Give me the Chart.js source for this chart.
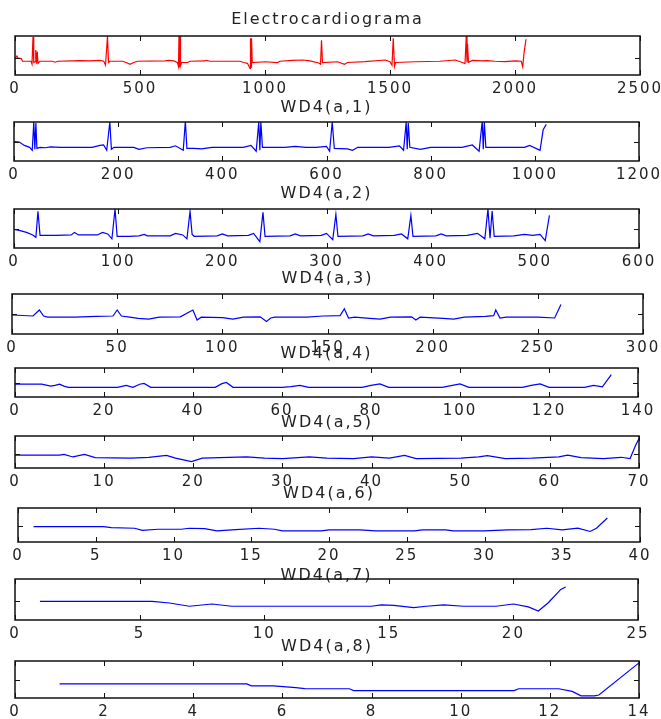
<!DOCTYPE html>
<html><head><meta charset="utf-8">
<script src="https://cdn.jsdelivr.net/npm/chart.js@4/dist/chart.umd.min.js"></script>
<style>
html,body{margin:0;padding:0;background:#fff;width:661px;height:719px;overflow:hidden;position:relative}
canvas{position:absolute;left:0}
</style></head><body>
<script>
// ---- titles and axis settings ----
const titles = ['Electrocardiograma','WD4(a,1)','WD4(a,2)','WD4(a,3)','WD4(a,4)','WD4(a,5)','WD4(a,6)','WD4(a,7)','WD4(a,8)'];
const xMax = [2500,1200,600,300,140,70,40,25,14];
const xTicks = [
  [0,500,1000,1500,2000,2500],
  [0,200,400,600,800,1000,1200],
  [0,100,200,300,400,500,600],
  [0,50,100,150,200,250,300],
  [0,20,40,60,80,100,120,140],
  [0,10,20,30,40,50,60,70],
  [0,5,10,15,20,25,30,35,40],
  [0,5,10,15,20,25],
  [0,2,4,6,8,10,12,14]
];
const yMin = [-1.1,-1,-1,-1,-1,-0.89,-0.96,-0.94,-0.96];
const yMax = [1.4,1,1,1,1,1.11,1.04,1.06,1.04];
const yTick = [0,0,0,0,0,0,0,0,0];

// ---- series (x, value) ----
const ecg = [[0,0],[5,0.05],[8,0.12],[12,-0.02],[25,-0.05],[30,-0.22],[64,-0.22],[68,-0.4],[72,1.34],[75,-0.3],
[80,-0.25],[83,0.5],[86,-0.38],[89,0.4],[92,-0.35],[100,-0.22],[150,-0.22],[160,-0.28],[170,-0.22],[230,-0.2],
[260,-0.18],[300,-0.2],[340,-0.16],[355,-0.22],[362,-0.47],[370,1.4],[374,-0.3],[380,-0.22],[430,-0.22],[445,-0.3],
[460,-0.41],[475,-0.3],[490,-0.22],[600,-0.2],[615,-0.16],[635,-0.2],[650,-0.3],[654,-0.55],[656,1.4],[658,-0.6],
[660,1.4],[662,-0.5],[666,-0.3],[690,-0.3],[700,-0.22],[760,-0.2],[765,-0.16],[780,-0.22],[900,-0.22],[915,-0.3],
[930,-0.35],[940,-0.68],[942,1.25],[944,-0.6],[946,1.25],[949,-0.3],[1000,-0.25],[1050,-0.3],[1060,-0.22],[1110,-0.16],
[1150,-0.14],[1180,-0.2],[1215,-0.33],[1222,-0.41],[1226,1.13],[1230,-0.3],[1290,-0.25],[1318,-0.41],[1330,-0.3],[1400,-0.24],
[1480,-0.14],[1500,-0.25],[1508,-0.47],[1513,1.25],[1518,-0.54],[1522,-0.3],[1600,-0.25],[1700,-0.22],[1760,-0.14],[1790,-0.3],
[1800,-0.37],[1805,1.4],[1808,-0.3],[1810,0.9],[1814,-0.28],[1830,-0.16],[1870,-0.2],[1890,-0.18],[1920,-0.22],[1960,-0.24],
[2000,-0.2],[2025,-0.22],[2031,-0.58],[2036,0.3],[2044,1.19]];

const a1 = [[0,0],[10,-0.03],[20,-0.2],[30,-0.3],[35,-0.45],[38,1.0],[40,-0.4],[42,0.95],[44,-0.35],[50,-0.3],[60,-0.32],[70,-0.28],[90,-0.3],[150,-0.3],[165,-0.2],[172,-0.18],[178,-0.45],[184,1.0],[187,-0.4],[192,-0.3],[230,-0.3],[240,-0.4],[255,-0.32],[300,-0.3],[310,-0.22],[325,-0.45],[329,1.05],[332,-0.35],[345,-0.35],[360,-0.38],[380,-0.3],[440,-0.3],[455,-0.2],[465,-0.5],[470,1.0],[472,-0.45],[474,1.0],[477,-0.3],[520,-0.3],[540,-0.25],[560,-0.3],[580,-0.3],[600,-0.25],[606,-0.5],[611,1.0],[615,-0.35],[640,-0.38],[650,-0.45],[660,-0.3],[720,-0.3],[740,-0.22],[748,-0.45],[753,1.0],[755,-0.4],[757,0.95],[760,-0.3],[780,-0.4],[800,-0.3],[860,-0.3],[880,-0.18],[893,-0.5],[899,1.05],[901,-0.4],[903,1.0],[906,-0.3],[950,-0.3],[980,-0.3],[990,-0.2],[1010,-0.45],[1016,0.6],[1022,0.88]];

const a2 = [[0,-0.05],[5,-0.1],[12,-0.2],[18,-0.33],[21,-0.45],[23,0.88],[25,-0.35],[40,-0.35],[55,-0.33],[58,-0.2],[62,-0.33],[80,-0.33],[85,-0.2],[90,-0.28],[94,-0.53],[97,1.0],[99,-0.4],[110,-0.4],[120,-0.38],[125,-0.3],[128,-0.38],[150,-0.38],[155,-0.25],[162,-0.33],[166,-0.53],[169,0.88],[171,-0.3],[173,-0.4],[195,-0.38],[200,-0.28],[205,-0.38],[225,-0.35],[230,-0.25],[236,-0.67],[239,0.83],[241,-0.4],[265,-0.38],[270,-0.28],[275,-0.38],[295,-0.35],[300,-0.25],[306,-0.57],[309,0.72],[311,-0.4],[335,-0.38],[340,-0.28],[345,-0.38],[365,-0.35],[372,-0.28],[378,-0.53],[381,0.67],[383,-0.4],[405,-0.38],[410,-0.28],[415,-0.38],[435,-0.35],[445,-0.25],[452,-0.53],[455,1.0],[457,-0.5],[459,0.9],[461,-0.4],[480,-0.38],[490,-0.3],[498,-0.35],[505,-0.3],[510,-0.62],[514,0.67]];

const a3 = [[0,-0.05],[10,-0.1],[13,0.2],[15,-0.1],[17,-0.16],[30,-0.16],[40,-0.12],[48,-0.1],[50,0.2],[52,-0.1],[56,-0.16],[60,-0.22],[65,-0.26],[70,-0.16],[80,-0.14],[86,0.2],[88,-0.3],[90,-0.16],[100,-0.18],[105,-0.26],[110,-0.16],[118,-0.14],[121,-0.37],[123,-0.2],[125,-0.16],[140,-0.16],[148,-0.1],[156,-0.08],[158,0.26],[160,-0.2],[163,-0.16],[170,-0.22],[175,-0.26],[180,-0.16],[190,-0.14],[192,-0.3],[194,-0.16],[205,-0.22],[210,-0.26],[215,-0.16],[225,-0.12],[229,-0.08],[230,0.2],[232,-0.2],[235,-0.16],[250,-0.16],[258,-0.2],[261,0.47]];

const a4 = [[0,-0.11],[6,-0.11],[8,-0.25],[9,-0.2],[10,-0.12],[11,-0.25],[12,-0.33],[23,-0.33],[25,-0.2],[26.5,-0.33],[28,-0.12],[29,-0.06],[30.5,-0.33],[45,-0.33],[46.5,-0.08],[47.5,0.0],[49,-0.33],[60,-0.33],[62,-0.28],[64,-0.2],[66,-0.33],[78,-0.33],[80,-0.2],[82,-0.1],[84,-0.33],[96,-0.33],[98,-0.22],[100,-0.1],[102,-0.33],[114,-0.33],[116,-0.2],[118,-0.1],[120,-0.33],[128,-0.33],[130,-0.2],[132,-0.3],[134,0.55]];

const a5 = [[0,-0.09],[5,-0.09],[5.5,-0.04],[6.5,-0.2],[7.8,-0.04],[9,-0.24],[13,-0.27],[15,-0.22],[17,-0.1],[18,-0.27],[19.8,-0.49],[21,-0.27],[24,-0.22],[26,-0.2],[28,-0.27],[30,-0.3],[33,-0.2],[35,-0.27],[38,-0.3],[40,-0.2],[42,-0.27],[43.7,-0.1],[45,-0.3],[50,-0.27],[52,-0.2],[53,-0.12],[55,-0.3],[58,-0.27],[61,-0.2],[62,-0.08],[63.5,-0.24],[66,-0.3],[68,-0.22],[69,-0.3],[69.6,0.5],[70,0.95]];

const a6 = [[1,-0.06],[5.5,-0.06],[6,-0.11],[7.5,-0.15],[8,-0.28],[9,-0.21],[10.5,-0.21],[11,-0.15],[12,-0.17],[12.8,-0.3],[14,-0.23],[15.5,-0.15],[16.5,-0.21],[17,-0.3],[19.5,-0.3],[20,-0.25],[22,-0.25],[23,-0.3],[25.5,-0.3],[26,-0.25],[27.5,-0.25],[28,-0.3],[30,-0.3],[31.5,-0.25],[33,-0.23],[34,-0.15],[35,-0.25],[36,-0.15],[36.8,-0.34],[37.2,-0.15],[37.9,0.45]];

const a7 = [[1,-0.03],[5.5,-0.03],[6.2,-0.11],[7,-0.27],[7.9,-0.16],[8.7,-0.27],[14.3,-0.27],[14.7,-0.2],[15.2,-0.23],[16,-0.34],[16.5,-0.27],[17.2,-0.2],[18,-0.27],[19.3,-0.27],[20,-0.16],[20.6,-0.3],[21,-0.5],[21.4,-0.1],[21.9,0.55],[22.1,0.67]];

const a8 = [[1,-0.2],[5.2,-0.2],[5.3,-0.3],[5.8,-0.3],[6.3,-0.4],[6.5,-0.45],[7.5,-0.46],[7.6,-0.56],[11.2,-0.56],[11.3,-0.46],[12.2,-0.46],[12.5,-0.6],[12.7,-0.84],[13.0,-0.84],[13.1,-0.8],[14,0.94]];

const series = [ecg,a1,a2,a3,a4,a5,a6,a7,a8];
const colors = ['#ff0000','#0000ff','#0000ff','#0000ff','#0000ff','#0000ff','#0000ff','#0000ff','#0000ff'];

// ---- layout (page pixels) ----
const boxTop    = [36,122,209,294,368,436,508,579,661];
const boxBottom = [75,161,248,334,397,468,542,620,698];
const boxLeft   = [15,14,14,12,15,15,18,15,15];
const boxRight  = [640,639,639,643,638,639,640,638,639];
const titleY    = [18,106,192,277,352,421,492,574,645];
const CW = 700, AXIS_H = 30, TITLE_LH = 20, TITLE_SHIFT = 2;

const axesBox = {
  id: 'axesBox',
  beforeDraw(chart) { chart.ctx.letterSpacing = '2px'; },
  afterDraw(chart) {
    const {ctx, chartArea: a, scales: {x, y}} = chart;
    ctx.save();
    ctx.strokeStyle = '#111';
    ctx.lineWidth = 1;
    ctx.beginPath();
    x.ticks.forEach(t => {
      const px = Math.round(x.getPixelForValue(t.value)) + 0.5;
      ctx.moveTo(px, a.bottom); ctx.lineTo(px, a.bottom - 5);
      ctx.moveTo(px, a.top); ctx.lineTo(px, a.top + 5);
    });
    y.ticks.forEach(t => {
      const py = Math.round(y.getPixelForValue(t.value)) + 0.5;
      ctx.moveTo(a.left, py); ctx.lineTo(a.left + 5, py);
      ctx.moveTo(a.right, py); ctx.lineTo(a.right - 5, py);
    });
    ctx.stroke();
    ctx.lineWidth = 1.5;
    ctx.strokeRect(a.left, a.top, a.right - a.left, a.bottom - a.top);
    ctx.restore();
  }
};

for (let i = 0; i < titles.length; i++) {
  const pb = (boxTop[i] - titleY[i]) - TITLE_LH / 2 - TITLE_SHIFT;
  const padTop = TITLE_SHIFT;
  const T = TITLE_LH + pb + padTop;
  const cv = document.createElement('canvas');
  cv.width = CW;
  cv.height = T + (boxBottom[i] - boxTop[i]) + AXIS_H;
  cv.style.width = CW + 'px';
  cv.style.height = cv.height + 'px';
  cv.style.top = (boxTop[i] - T) + 'px';
  document.body.appendChild(cv);
  new Chart(cv, {
    type: 'line',
    data: { datasets: [{
      data: series[i].map(p => ({x: p[0], y: p[1]})),
      borderColor: colors[i], borderWidth: 1.2, pointRadius: 0, tension: 0, fill: false
    }]},
    options: {
      responsive: false, animation: false, devicePixelRatio: 1, events: [],
      layout: { padding: { left: boxLeft[i], right: CW - boxRight[i], top: 0, bottom: 0 } },
      plugins: {
        legend: { display: false }, tooltip: { enabled: false },
        title: { display: true, text: titles[i], color: '#222', align: 'center',
          font: { family: 'DejaVu Sans', size: 16, weight: 'normal', lineHeight: TITLE_LH + 'px' },
          padding: { top: padTop, bottom: pb } }
      },
      scales: {
        x: { type: 'linear', min: 0, max: xMax[i],
          afterBuildTicks: s => { s.ticks = xTicks[i].map(v => ({value: v})); },
          afterFit: s => { s.height = AXIS_H; },
          grid: { display: false, drawTicks: false }, border: { display: false },
          ticks: { font: { family: 'DejaVu Sans', size: 15 }, color: '#222', padding: 5,
            maxRotation: 0, autoSkip: false, callback: v => String(v) } },
        y: { type: 'linear', min: yMin[i], max: yMax[i],
          afterBuildTicks: s => { s.ticks = [{value: yTick[i]}]; },
          afterFit: s => { s.width = 0; },
          grid: { display: false, drawTicks: false }, border: { display: false },
          ticks: { display: false } }
      }
    },
    plugins: [axesBox]
  });
}
</script>
</body></html>
